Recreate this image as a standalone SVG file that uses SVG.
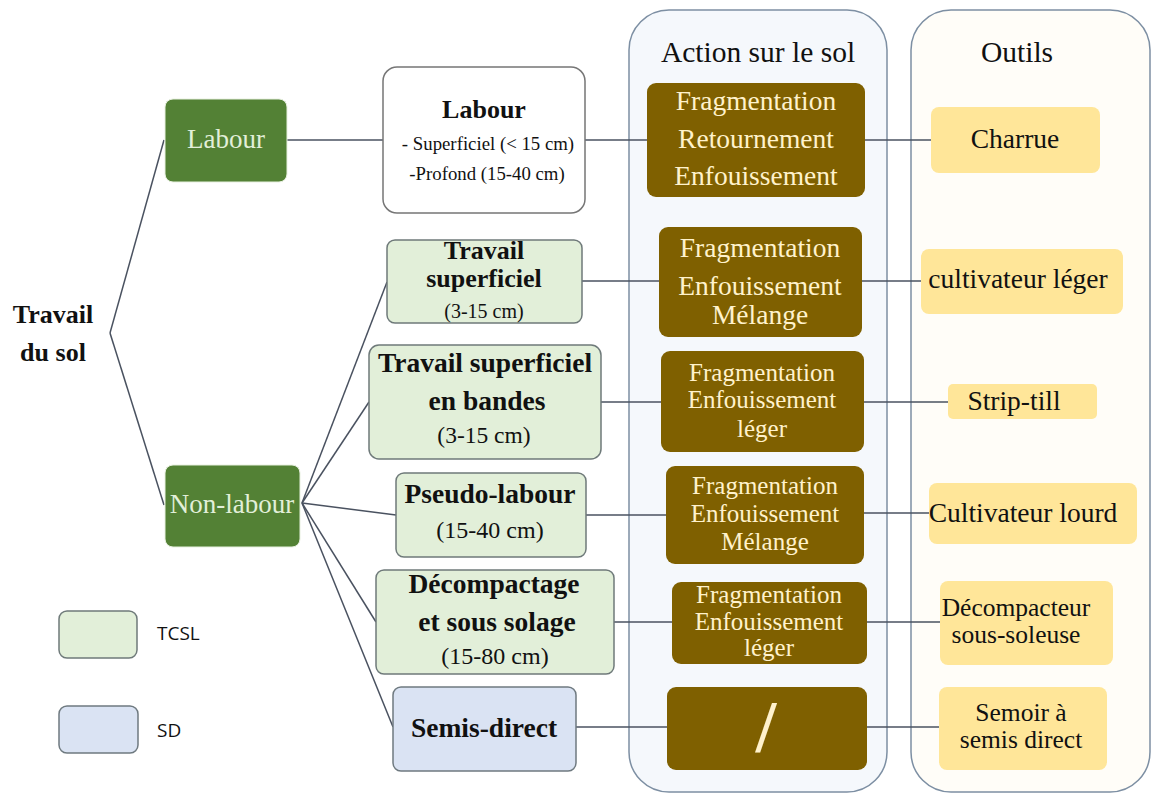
<svg xmlns="http://www.w3.org/2000/svg" width="1153" height="794" viewBox="0 0 1153 794">
<style>
text{font-family:"Liberation Serif","Times New Roman",serif;text-anchor:middle}
.col{stroke:#7d8fa3;stroke-width:1.5}
.g{fill:#538135;stroke:#e8f0e0;stroke-width:1}
.gt{fill:#e2efd9;font-size:27px}
.w{fill:#ffffff;stroke:#767676;stroke-width:1.5}
.t{fill:#e2efd9;stroke:#6f7a7a;stroke-width:1.5}
.s{fill:#dae3f3;stroke:#6f7a80;stroke-width:1.5}
.b{fill:#7f6000}
.bt{fill:#fff2cc;font-size:27.5px}
.bs{fill:#fff2cc;font-size:25px}
.y{fill:#ffe699}
.yt{fill:#111;font-size:27.5px}
.ys{fill:#111;font-size:25.5px}
.bold{font-weight:bold;fill:#111;font-size:27.5px}
.reg{fill:#111}
.hd{fill:#111;font-size:29.5px}
.lg{font-family:"Open Sans","Liberation Sans",sans-serif;text-anchor:start;font-size:19px;fill:#111}
#connectors line{stroke:#4a5260;stroke-width:1.5}
</style>
<rect width="1153" height="794" fill="#ffffff"/>
<g id="columns">
<rect class="col" x="629" y="10" width="258" height="782" rx="40" fill="#f5f8fc"/>
<rect class="col" x="911" y="10" width="239" height="782" rx="40" fill="#fffdf8"/>
<text class="hd" x="758" y="62">Action sur le sol</text>
<text class="hd" x="1017" y="62">Outils</text>
</g>
<g id="connectors">
<line x1="110" y1="333" x2="164" y2="140"/>
<line x1="110" y1="333" x2="164" y2="505"/>
<line x1="287" y1="140" x2="383" y2="140"/>
<line x1="585" y1="140" x2="647" y2="140"/>
<line x1="865" y1="140" x2="931" y2="140"/>
<line x1="302" y1="503" x2="387" y2="282"/>
<line x1="302" y1="503" x2="369" y2="402"/>
<line x1="302" y1="503" x2="396" y2="515"/>
<line x1="302" y1="503" x2="376" y2="622"/>
<line x1="302" y1="503" x2="393" y2="727"/>
<line x1="582" y1="281" x2="659" y2="281"/>
<line x1="862" y1="281" x2="921" y2="281"/>
<line x1="601" y1="402" x2="661" y2="402"/>
<line x1="864" y1="402" x2="948" y2="402"/>
<line x1="586" y1="515" x2="666" y2="515"/>
<line x1="864" y1="513" x2="929" y2="513"/>
<line x1="614" y1="622" x2="672" y2="622"/>
<line x1="867" y1="622" x2="940" y2="622"/>
<line x1="576" y1="727" x2="667" y2="727"/>
<line x1="867" y1="727" x2="939" y2="727"/>
</g>
<g id="root">
<text class="bold" x="53" y="323" style="font-size:26px">Travail</text>
<text class="bold" x="53" y="361" style="font-size:26px">du sol</text>
</g>
<g id="labour">
<rect class="g" x="165" y="99" width="122" height="83" rx="8"/>
<text class="gt" x="226" y="148">Labour</text>
</g>
<g id="nonlabour">
<rect class="g" x="165" y="465" width="135" height="82" rx="8"/>
<text class="gt" x="232" y="513">Non-labour</text>
</g>
<g id="labour-detail">
<rect class="w" x="383" y="67" width="202" height="146" rx="14"/>
<text class="bold" x="484" y="118" style="font-size:26px">Labour</text>
<text class="reg" x="488" y="150" style="font-size:18.8px">- Superficiel (&lt; 15 cm)</text>
<text class="reg" x="487" y="180" style="font-size:18.8px">-Profond (15-40 cm)</text>
</g>
<g id="travail-superficiel">
<rect class="t" x="387" y="240" width="195" height="83" rx="8"/>
<text class="bold" x="484" y="259" style="font-size:26px">Travail</text>
<text class="bold" x="484" y="287" style="font-size:26px">superficiel</text>
<text class="reg" x="484" y="318" style="font-size:20px">(3-15 cm)</text>
</g>
<g id="travail-bandes">
<rect class="t" x="369" y="345" width="232" height="114" rx="10"/>
<text class="bold" x="485" y="372">Travail superficiel</text>
<text class="bold" x="487" y="410">en bandes</text>
<text class="reg" x="484" y="443" style="font-size:23.5px">(3-15 cm)</text>
</g>
<g id="pseudo-labour">
<rect class="t" x="396" y="473" width="190" height="84" rx="8"/>
<text class="bold" x="490" y="503">Pseudo-labour</text>
<text class="reg" x="490" y="538" style="font-size:24px">(15-40 cm)</text>
</g>
<g id="decompactage">
<rect class="t" x="376" y="570" width="238" height="104" rx="8"/>
<text class="bold" x="494" y="593">Décompactage</text>
<text class="bold" x="497" y="631">et sous solage</text>
<text class="reg" x="495" y="664" style="font-size:24px">(15-80 cm)</text>
</g>
<g id="semis-direct">
<rect class="s" x="393" y="687" width="183" height="84" rx="8"/>
<text class="bold" x="484" y="737">Semis-direct</text>
</g>
<g id="action-1">
<rect class="b" x="647" y="83" width="218" height="114" rx="9"/>
<text class="bt" x="756" y="110">Fragmentation</text>
<text class="bt" x="756" y="148">Retournement</text>
<text class="bt" x="756" y="185">Enfouissement</text>
</g>
<g id="action-2">
<rect class="b" x="659" y="227" width="203" height="110" rx="9"/>
<text class="bt" x="760" y="257">Fragmentation</text>
<text class="bt" x="760" y="295">Enfouissement</text>
<text class="bt" x="760" y="324">Mélange</text>
</g>
<g id="action-3">
<rect class="b" x="661" y="351" width="203" height="101" rx="9"/>
<text class="bs" x="762" y="381">Fragmentation</text>
<text class="bs" x="762" y="408">Enfouissement</text>
<text class="bs" x="762" y="437">léger</text>
</g>
<g id="action-4">
<rect class="b" x="666" y="466" width="198" height="98" rx="9"/>
<text class="bs" x="765" y="494">Fragmentation</text>
<text class="bs" x="765" y="522">Enfouissement</text>
<text class="bs" x="765" y="550">Mélange</text>
</g>
<g id="action-5">
<rect class="b" x="672" y="582" width="195" height="82" rx="9"/>
<text class="bs" x="769" y="603">Fragmentation</text>
<text class="bs" x="769" y="630">Enfouissement</text>
<text class="bs" x="769" y="656">léger</text>
</g>
<g id="action-6">
<rect class="b" x="667" y="687" width="200" height="83" rx="9"/>
<text class="bt" x="766" y="752" style="font-size:74px;font-weight:bold">/</text>
</g>
<g id="outil-1">
<rect class="y" x="931" y="107" width="169" height="66" rx="8"/>
<text class="yt" x="1015" y="148">Charrue</text>
</g>
<g id="outil-2">
<rect class="y" x="921" y="249" width="202" height="65" rx="8"/>
<text class="yt" x="1018" y="288">cultivateur léger</text>
</g>
<g id="outil-3">
<rect class="y" x="948" y="384" width="149" height="35" rx="5"/>
<text class="yt" x="1014" y="410">Strip-till</text>
</g>
<g id="outil-4">
<rect class="y" x="929" y="483" width="208" height="61" rx="8"/>
<text class="yt" x="1023" y="522">Cultivateur lourd</text>
</g>
<g id="outil-5">
<rect class="y" x="940" y="581" width="173" height="84" rx="8"/>
<text class="ys" x="1016" y="616">Décompacteur</text>
<text class="ys" x="1016" y="643">sous-soleuse</text>
</g>
<g id="outil-6">
<rect class="y" x="939" y="687" width="168" height="83" rx="8"/>
<text class="ys" x="1021" y="721">Semoir à</text>
<text class="ys" x="1021" y="748">semis direct</text>
</g>
<g id="legend">
<rect class="t" x="59" y="611" width="78" height="47" rx="8"/>
<text class="lg" x="157" y="640">TCSL</text>
<rect class="s" x="59" y="706" width="79" height="47" rx="8"/>
<text class="lg" x="157" y="737">SD</text>
</g>
</svg>
